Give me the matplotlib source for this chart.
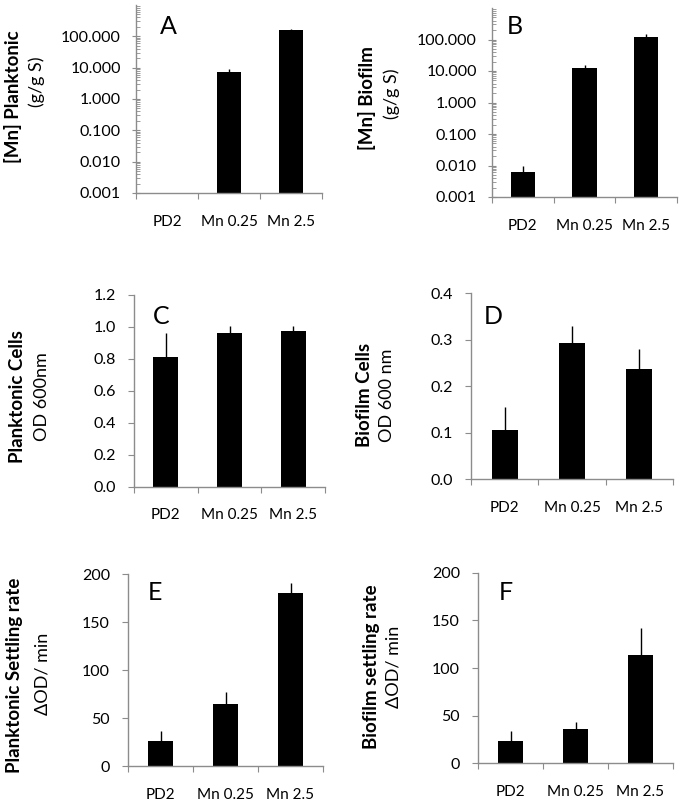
import numpy as np
import matplotlib
matplotlib.use("Agg")
import matplotlib.pyplot as plt
from matplotlib.ticker import LogLocator, NullFormatter, FixedLocator

plt.rcParams['font.family'] = ['Lato', 'DejaVu Sans']

categories = ["PD2", "Mn 0.25", "Mn 2.5"]

# Panel values (mean, upper error size)
mn_planktonic = [np.nan, 7.4, 155.0]
mn_planktonic_err = [np.nan, 1.6, 12.0]
mn_biofilm = [0.0062, 12.3, 124.0]
mn_biofilm_err = [0.0038, 3.2, 27.0]
planktonic_cells = [0.815, 0.965, 0.972]
planktonic_cells_err = [0.15, 0.04, 0.035]
biofilm_cells = [0.106, 0.294, 0.236]
biofilm_cells_err = [0.049, 0.036, 0.045]
planktonic_settling = [26.0, 65.0, 180.0]
planktonic_settling_err = [10.0, 12.0, 10.5]
biofilm_settling = [23.7, 35.7, 114.0]
biofilm_settling_err = [10.2, 8.0, 27.5]

W, H = 681, 802
fig = plt.figure(figsize=(W / 100, H / 100), dpi=100)

GRAY = "#8c8c8c"

def px_axes(left, right, top, bottom):
    return fig.add_axes([left / W, 1 - bottom / H, (right - left) / W, (bottom - top) / H])

panels = [
    dict(box=(136, 322, 5, 193), vals=mn_planktonic, err=mn_planktonic_err, log=True,
         ylim=(0.001, 1000), letter="A", lpos=(160, 27),
         lab1="[Mn] Planktonic", lab2="(g/g S)", l1=(13, 97), l2=(37, 82)),
    dict(box=(492, 677, 8, 197), vals=mn_biofilm, err=mn_biofilm_err, log=True,
         ylim=(0.001, 1000), letter="B", lpos=(507, 27),
         lab1="[Mn] Biofilm", lab2="(g/g S)", l1=(367, 98), l2=(392, 94)),
    dict(box=(134, 325, 295, 486.7), vals=planktonic_cells, err=planktonic_cells_err, log=False,
         ylim=(0, 1.2), yticks=[0, 0.2, 0.4, 0.6, 0.8, 1.0, 1.2], fmt="{:.1f}", letter="C", lpos=(153, 317),
         lab1="Planktonic Cells", lab2="OD 600nm", l1=(18, 397), l2=(42, 397)),
    dict(box=(471, 673, 293.3, 479), vals=biofilm_cells, err=biofilm_cells_err, log=False,
         ylim=(0, 0.4), yticks=[0, 0.1, 0.2, 0.3, 0.4], fmt="{:.1f}", letter="D", lpos=(484, 317),
         lab1="Biofilm Cells", lab2="OD 600 nm", l1=(364, 395), l2=(387, 395)),
    dict(box=(128, 323, 574.3, 766), vals=planktonic_settling, err=planktonic_settling_err, log=False,
         ylim=(0, 200), yticks=[0, 50, 100, 150, 200], fmt="{:.0f}", letter="E", lpos=(148, 592),
         lab1="Planktonic Settling rate", lab2="\u0394OD/ min", l1=(15, 675), l2=(42, 674)),
    dict(box=(478, 673, 572.7, 763.3), vals=biofilm_settling, err=biofilm_settling_err, log=False,
         ylim=(0, 200), yticks=[0, 50, 100, 150, 200], fmt="{:.0f}", letter="F", lpos=(499, 592),
         lab1="Biofilm settling rate", lab2="\u0394OD/ min", l1=(372, 667), l2=(393, 667)),
]

x = np.arange(len(categories))
for p in panels:
    ax = px_axes(*p["box"])
    vals = np.array(p["vals"], dtype=float)
    err = np.array(p["err"], dtype=float)
    if p["log"]:
        ax.set_yscale("log")
    ax.bar(x, vals, width=0.39, color="black", zorder=2)
    lower = np.zeros_like(err)
    ax.errorbar(x, vals, yerr=[lower, err], fmt="none", ecolor="black", elinewidth=1.0,
                capsize=0, zorder=3)
    ax.set_xlim(-0.5, 2.5)
    ax.set_ylim(*p["ylim"])
    for s in ["top", "right"]:
        ax.spines[s].set_visible(False)
    for s in ["left", "bottom"]:
        ax.spines[s].set_color(GRAY)
        ax.spines[s].set_linewidth(1.0)
    # x axis: boundary ticks, labels at centers
    ax.xaxis.set_major_locator(FixedLocator([-0.5, 0.5, 1.5, 2.5]))
    ax.xaxis.set_major_formatter(NullFormatter())
    ax.xaxis.set_minor_locator(FixedLocator(x))
    ax.set_xticklabels(categories, minor=True)
    ax.tick_params(axis="x", which="major", direction="out", length=4, color=GRAY)
    ax.tick_params(axis="x", which="minor", length=0, pad=15.5, labelsize=11)
    if p["log"]:
        ticks = [0.001, 0.01, 0.1, 1, 10, 100]
        ax.yaxis.set_major_locator(FixedLocator(ticks))
        ax.set_yticklabels(["0.001", "0.010", "0.100", "1.000", "10.000", "100.000"])
        ax.yaxis.set_minor_locator(LogLocator(base=10, subs=np.arange(2, 10), numticks=20))
        ax.yaxis.set_minor_formatter(NullFormatter())
        ax.tick_params(axis="y", which="major", direction="inout", length=6, color=GRAY,
                       pad=8, labelsize=11.5)
        ax.tick_params(axis="y", which="minor", direction="in", length=3, color=GRAY, width=0.6)
    else:
        ax.set_yticks(p["yticks"])
        ax.set_yticklabels([p["fmt"].format(t) for t in p["yticks"]])
        ax.tick_params(axis="y", which="major", direction="out", length=4, color=GRAY,
                       pad=9, labelsize=11.5)
    ax.set_facecolor("white")
    fig.text(p["lpos"][0] / W, 1 - p["lpos"][1] / H, p["letter"], fontsize=18,
             ha="left", va="center")
    fig.text(p["l1"][0] / W, 1 - p["l1"][1] / H, p["lab1"], rotation=90, fontsize=13.5,
             fontweight="bold", ha="center", va="center")
    fig.text(p["l2"][0] / W, 1 - p["l2"][1] / H, p["lab2"], rotation=90, fontsize=13,
             ha="center", va="center")

fig.savefig("out.png", dpi=100, facecolor="white")
